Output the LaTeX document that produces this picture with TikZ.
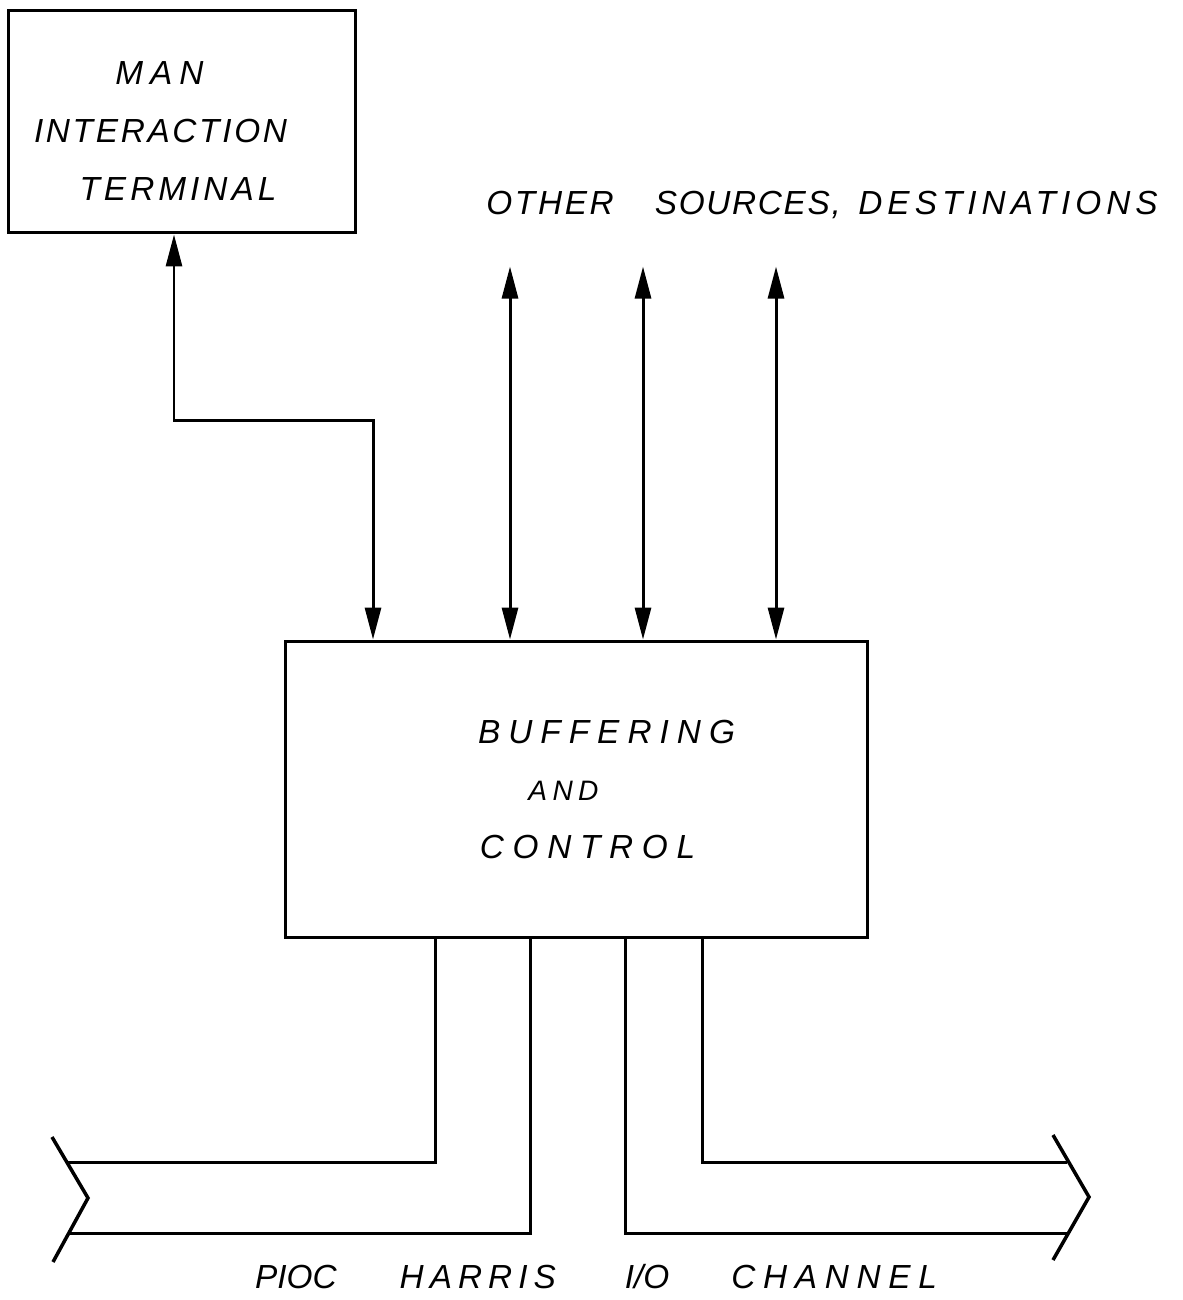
\documentclass[tikz,border=0pt]{standalone}
\usepackage{fontspec}
\usepackage{tikz}
\usetikzlibrary{positioning, arrows.meta, calc}
\newfontfamily\handfont{Liberation Sans}
% hand lettering: word with its own letter spacing
\newcommand{\hw}[2]{{\addfontfeatures{LetterSpace=#1}#2}}
% move a line sideways without changing its width
\newcommand{\nudge}[2]{\hbox{\kern#1\relax#2\kern-#1\relax}}
\tikzset{
  box/.style={draw, line width=1.7pt, align=center, inner sep=0pt,
              font=\handfont\itshape\fontsize{19}{33}\selectfont},
  wire/.style={line width=1.7pt},
  bidir/.style={wire, {Triangle[length=6.4mm, width=3.2mm]}-{Triangle[length=6.4mm, width=3.2mm]}},
  txt/.style={font=\handfont\itshape\fontsize{19}{22}\selectfont, inner sep=0pt}
}

\begin{document}
\begin{tikzpicture}[x=0.02cm, y=-0.02cm]
  \useasboundingbox (0,0) rectangle (1182,1300);
  \node[box, minimum width=6.96cm, minimum height=4.46cm] (term) at (182,121.5)
    {\rule{0pt}{0.85cm}\nudge{-0.45cm}{\hw{21}{MAN}}\\
     \nudge{-0.43cm}{\hw{8}{INTERACTION}}\\
     \nudge{-0.08cm}{\hw{12}{TERMINAL}}};
  \node[box, minimum width=11.66cm, minimum height=5.94cm] (buf) at (576.5,789.5)
    {\nudge{0.6cm}{\hw{24}{BUFFERING}}\\
     \nudge{-0.26cm}{\fontsize{16}{33}\selectfont\hw{19}{AND}}\\
     \nudge{0.22cm}{\hw{26}{CONTROL}}};
  \node[txt] (other) at (822,205)
    {\hw{8}{OTHER}\hspace{0.82cm}\hw{5}{SOURCES,}\hspace{0.35cm}\hw{15}{DESTINATIONS}};
  \node[txt] (chan) at (596,1277)
    {\hw{0}{PIOC}\hspace{1.26cm}\hw{18}{HARRIS}\hspace{1.38cm}\hw{0}{I/O}\hspace{1.24cm}\hw{23}{CHANNEL}};
  % terminal link and the other sources
  \draw[bidir] ([xshift=-0.16cm]term.south) -- ++(0,186) -| ($(buf.north)+(-203.5,0)$);
  \foreach \dx in {-66.5, 66.5, 199.5}
    \draw[bidir] ($(buf.north)+(\dx,0)$) -- ++(0,-373);
  % I/O channel bus
  \draw[wire] ($(buf.south west)+(152,0)$) |- (68,1162);
  \draw[wire] ($(buf.south west)+(247,0)$) |- (69,1233);
  \draw[wire] ($(buf.south west)+(342,0)$) |- (1067,1233);
  \draw[wire] ($(buf.south west)+(419,0)$) |- (1067,1162);
  \draw[wire, line width=2pt] (52,1137) -- (88,1198) -- (53,1262);
  \draw[wire, line width=2pt] (1053,1135) -- (1089,1197) -- (1053,1260);
\end{tikzpicture}
\end{document}
